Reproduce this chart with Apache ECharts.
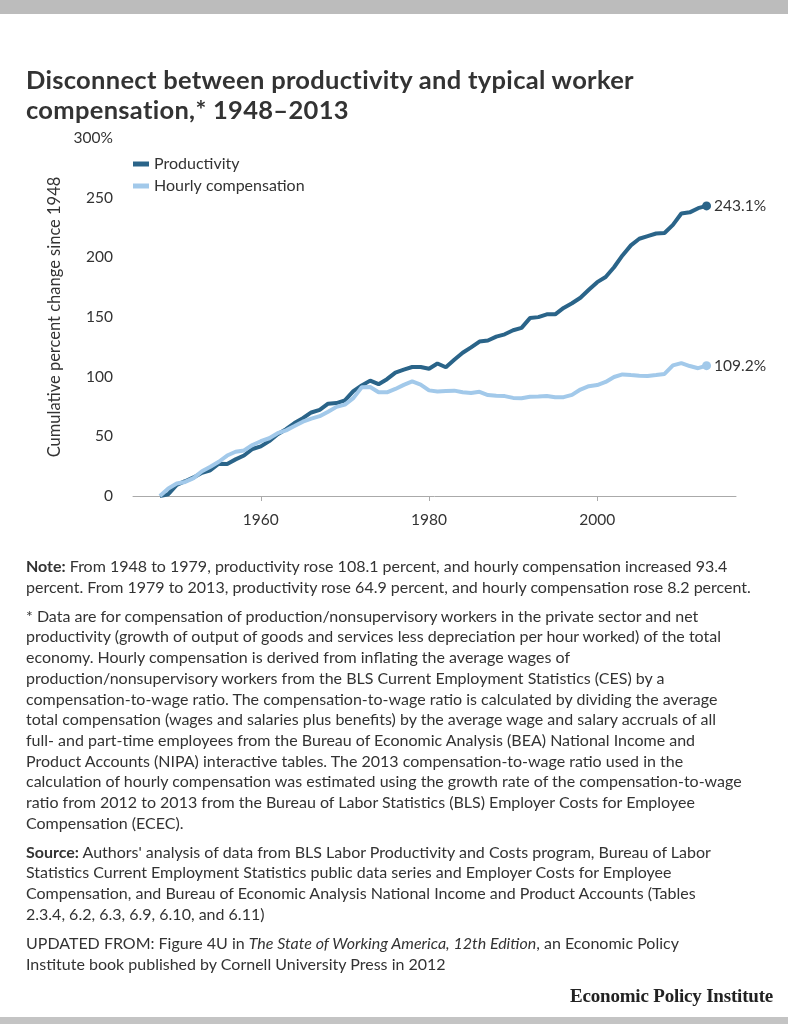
<!DOCTYPE html>
<html>
<head>
<meta charset="utf-8">
<script src="https://cdn.jsdelivr.net/npm/echarts@6/dist/echarts.min.js"></script>
<style>
  html, body { margin: 0; padding: 0; background: #fff; }
  body { width: 788px; height: 1024px; position: relative; overflow: hidden; font-family: Lato, "Noto Sans", sans-serif; color: #333; }
  #topbar { position: absolute; left: 0; top: 0; width: 788px; height: 14px; background: #bcbcbc; }
  #botbar { position: absolute; left: 0; top: 1017px; width: 788px; height: 7px; background: #c4c4c4; }
  #chart { position: absolute; left: 0; top: 0; width: 788px; height: 1024px; }
  #title { position: absolute; left: 26px; top: 64px; font-size: 25.5px; font-weight: 700; line-height: 30px; color: #333; white-space: nowrap; letter-spacing: 0.3px; }
  #notes { position: absolute; left: 26px; top: 556px; font-size: 16px; line-height: 20.7px; color: #333; white-space: nowrap; }
  #notes p { margin: 0 0 8.3px 0; }
  #epi { position: absolute; right: 15px; top: 985px; font-family: "Liberation Serif", "DejaVu Serif", serif; font-weight: 700; font-size: 19px; color: #222; letter-spacing: -0.2px; }
</style>
</head>
<body>
<div id="topbar"></div>
<div id="chart"></div>
<div id="title">Disconnect between productivity and typical worker<br>compensation,* 1948–2013</div>
<div id="notes">
<p><b>Note:</b> From 1948 to 1979, productivity rose 108.1 percent, and hourly compensation increased 93.4<br>percent. From 1979 to 2013, productivity rose 64.9 percent, and hourly compensation rose 8.2 percent.</p>
<p>* Data are for compensation of production/nonsupervisory workers in the private sector and net<br>productivity (growth of output of goods and services less depreciation per hour worked) of the total<br>economy. Hourly compensation is derived from inflating the average wages of<br>production/nonsupervisory workers from the BLS Current Employment Statistics (CES) by a<br>compensation-to-wage ratio. The compensation-to-wage ratio is calculated by dividing the average<br>total compensation (wages and salaries plus benefits) by the average wage and salary accruals of all<br>full- and part-time employees from the Bureau of Economic Analysis (BEA) National Income and<br>Product Accounts (NIPA) interactive tables. The 2013 compensation-to-wage ratio used in the<br>calculation of hourly compensation was estimated using the growth rate of the compensation-to-wage<br>ratio from 2012 to 2013 from the Bureau of Labor Statistics (BLS) Employer Costs for Employee<br>Compensation (ECEC).</p>
<p><b>Source:</b> Authors' analysis of data from BLS Labor Productivity and Costs program, Bureau of Labor<br>Statistics Current Employment Statistics public data series and Employer Costs for Employee<br>Compensation, and Bureau of Economic Analysis National Income and Product Accounts (Tables<br>2.3.4, 6.2, 6.3, 6.9, 6.10, and 6.11)</p>
<p>UPDATED FROM: Figure 4U in <i>The State of Working America, 12th Edition</i>, an Economic Policy<br>Institute book published by Cornell University Press in 2012</p>
</div>
<div id="epi">Economic Policy Institute</div>
<div id="botbar"></div>
<script>
const years = [1948,1949,1950,1951,1952,1953,1954,1955,1956,1957,1958,1959,
  1960,1961,1962,1963,1964,1965,1966,1967,1968,1969,
  1970,1971,1972,1973,1974,1975,1976,1977,1978,1979,
  1980,1981,1982,1983,1984,1985,1986,1987,1988,1989,
  1990,1991,1992,1993,1994,1995,1996,1997,1998,1999,
  2000,2001,2002,2003,2004,2005,2006,2007,2008,2009,
  2010,2011,2012,2013];
const productivity = [0.0,1.5,9.3,12.4,15.6,19.5,21.6,27.1,26.9,30.7,33.9,39.4,
  41.6,46.0,51.7,56.0,61.1,65.2,70.0,72.2,77.4,77.9,
  80.1,87.9,92.6,96.7,93.7,97.9,103.4,105.9,108.1,108.1,
  106.6,111.0,107.9,114.1,120.0,124.5,129.4,130.3,133.5,135.5,
  138.9,140.9,149.1,149.9,152.2,152.2,157.6,161.5,166.1,172.8,
  179.2,183.5,191.7,201.6,210.0,215.6,217.8,220.0,220.4,227.2,
  236.7,237.7,241.2,243.1];
const hourlyCompensation = [0.0,6.3,10.5,11.8,15.0,20.8,24.5,28.7,33.9,37.1,38.2,42.7,
  45.9,48.4,52.6,55.0,58.6,62.3,64.9,66.9,70.6,74.7,
  76.6,82.0,91.2,91.3,87.0,86.9,89.7,93.1,96.0,93.4,
  88.5,87.5,87.9,88.3,87.0,86.3,87.3,84.6,84.0,83.7,
  82.2,81.9,83.1,83.4,83.8,82.7,82.8,84.7,89.2,92.0,
  93.0,95.6,99.7,101.9,101.3,100.8,100.6,101.4,102.3,109.4,
  111.4,108.9,107.1,109.2];
const xTickYears = [1960, 1980, 2000];
const yTicks = [0, 50, 100, 150, 200, 250, 300];
const seriesNames = ['Productivity', 'Hourly compensation'];
const endLabels = ['243.1%', '109.2%'];

const colors = ['#2a6489', '#a2c9ea'];

function pairs(vals) { return years.map((y, i) => [y, vals[i]]); }

function mkSeries(name, vals, color, label) {
  const data = pairs(vals);
  const last = data.length - 1;
  data[last] = {
    value: data[last],
    symbol: 'circle',
    symbolSize: 9,
    label: {
      show: true, position: 'right', distance: 3,
      formatter: label, color: '#333', fontSize: 15.5, fontFamily: 'Lato'
    }
  };
  return {
    name: name, type: 'line', data: data,
    showSymbol: true, symbol: 'none',
    lineStyle: { width: 4, color: color },
    itemStyle: { color: color },
    emphasis: { disabled: true },
    animation: false
  };
}

const chart = echarts.init(document.getElementById('chart'), null, { renderer: 'canvas' });
chart.setOption({
  animation: false,
  textStyle: { fontFamily: 'Lato' },
  grid: { left: 133, right: 52, top: 138, bottom: 528, containLabel: false },
  legend: {
    orient: 'vertical', left: 128, top: 151,
    itemWidth: 16, itemHeight: 5, itemGap: 6, icon: 'rect',
    textStyle: { fontSize: 16, color: '#333', fontFamily: 'Lato' },
    data: seriesNames.map((n, i) => ({ name: n, itemStyle: { color: colors[i] } })),
    selectedMode: false
  },
  xAxis: {
    type: 'value', min: 1944.8, max: 2016.5,
    splitLine: { show: false },
    axisLine: { show: true, lineStyle: { color: '#aaa', width: 1 } },
    axisTick: { show: true, length: 5, lineStyle: { color: '#aaa' }, customValues: xTickYears },
    axisLabel: { show: true, margin: 16, fontSize: 15.5, color: '#333', customValues: xTickYears, formatter: v => String(v) }
  },
  yAxis: {
    type: 'value', min: 0, max: 300, interval: 50,
    name: 'Cumulative percent change since 1948',
    nameLocation: 'middle', nameGap: 70, nameRotate: 90,
    nameTextStyle: { fontSize: 16.5, color: '#333' },
    splitLine: { show: false },
    axisLine: { show: false }, axisTick: { show: false },
    axisLabel: { margin: 20, fontSize: 15.5, color: '#333', formatter: v => (v === 300 ? '300%' : String(v)) }
  },
  series: [
    mkSeries(seriesNames[0], productivity, colors[0], endLabels[0]),
    mkSeries(seriesNames[1], hourlyCompensation, colors[1], endLabels[1])
  ]
});
</script>
</body>
</html>
